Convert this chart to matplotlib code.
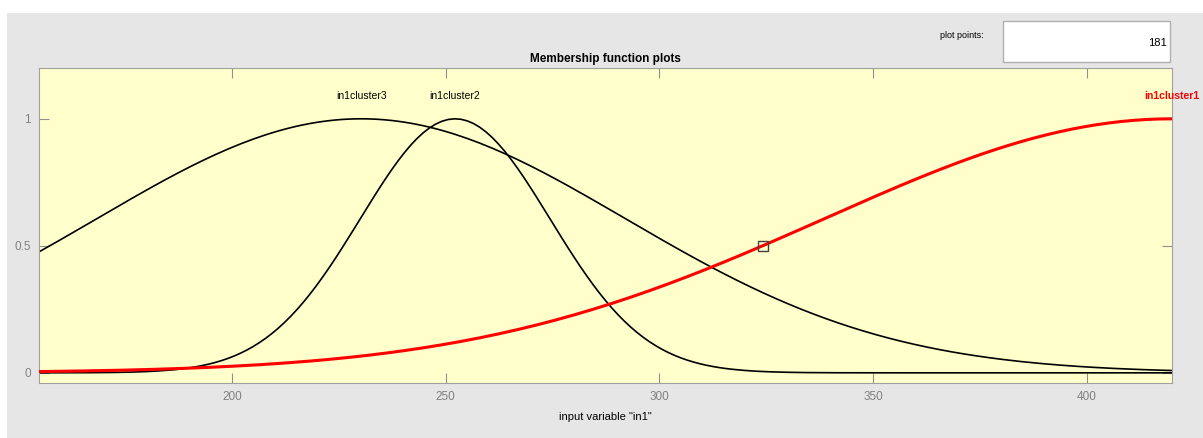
import numpy as np
import matplotlib.pyplot as plt
from matplotlib.patches import Rectangle

# membership functions of input "in1" (gaussmf: sigma, center)
mf_names = ['in1cluster1', 'in1cluster2', 'in1cluster3']
mf_sigma = [81.4, 22.2, 61.9]
mf_center = [420.0, 252.2, 230.2]
mf_colors = ['red', 'black', 'black']
mf_widths = [2.2, 1.2, 1.2]

x_range = [154.8, 420.0]
n_points = 181
selected = 0  # highlighted MF (red)
xticks = [200, 250, 300, 350, 400]
yticks = [0, 0.5, 1]
ytick_labels = ['0', '0.5', '1']

plt.rcParams['font.family'] = ['Liberation Sans', 'DejaVu Sans']

W, H = 1203, 438
fig = plt.figure(figsize=(W / 100, H / 100), dpi=100, facecolor='white')
fig.patches.append(Rectangle((7 / W, 0), 1 - 7 / W, (H - 13) / H,
                             transform=fig.transFigure, facecolor='#e6e6e6',
                             edgecolor='none', zorder=-10))

ax = fig.add_axes([39 / W, (H - 383) / H, (1172 - 39) / W, (383 - 68) / H])
ax.set_facecolor('#ffffcc')

x = np.linspace(x_range[0], x_range[1], n_points)
order = [i for i in range(len(mf_names)) if i != selected] + [selected]
for i in order:
    y = np.exp(-(x - mf_center[i]) ** 2 / (2 * mf_sigma[i] ** 2))
    ax.plot(x, y, color=mf_colors[i], lw=mf_widths[i], zorder=3 if i == selected else 2)
    lx = min(max(mf_center[i], x_range[0]), x_range[1])
    ax.text(lx, 1.09, mf_names[i], ha='center', va='center', fontsize=7.5,
            color=mf_colors[i], fontweight='bold' if i == selected else 'normal',
            clip_on=False)

# selection marker at half height of the selected MF
xm = mf_center[selected] - mf_sigma[selected] * np.sqrt(2 * np.log(2))
ax.plot([xm], [0.5], marker='s', ms=7, mfc='none', mec='#404040', mew=1, zorder=4)

ax.set_xlim(x_range)
ax.set_ylim(-0.04, 1.2)
ax.set_xticks(xticks)
ax.set_yticks(yticks)
ax.set_yticklabels(ytick_labels)
ax.tick_params(direction='in', length=7, color='#909090', labelcolor='#808080',
               labelsize=8.5, top=True, right=True, pad=6)
for s in ax.spines.values():
    s.set_color('#a0a0a0')

ax.set_title('Membership function plots', fontsize=8.5, fontweight='bold', pad=4)
ax.set_xlabel('input variable "in1"', fontsize=8, labelpad=6)

# "plot points" field
fig.text(984 / W, 1 - 36 / H, 'plot points:', fontsize=6.5, ha='right', va='center')
fig.patches.append(Rectangle((1003 / W, 1 - 62 / H), 167 / W, 41 / H,
                             transform=fig.transFigure, facecolor='white',
                             edgecolor='#b0b0b0', lw=1, zorder=1))
fig.text(1167 / W, 1 - 43 / H, str(n_points), fontsize=8, ha='right', va='center')

fig.savefig('out.png', dpi=100, facecolor=fig.get_facecolor())
